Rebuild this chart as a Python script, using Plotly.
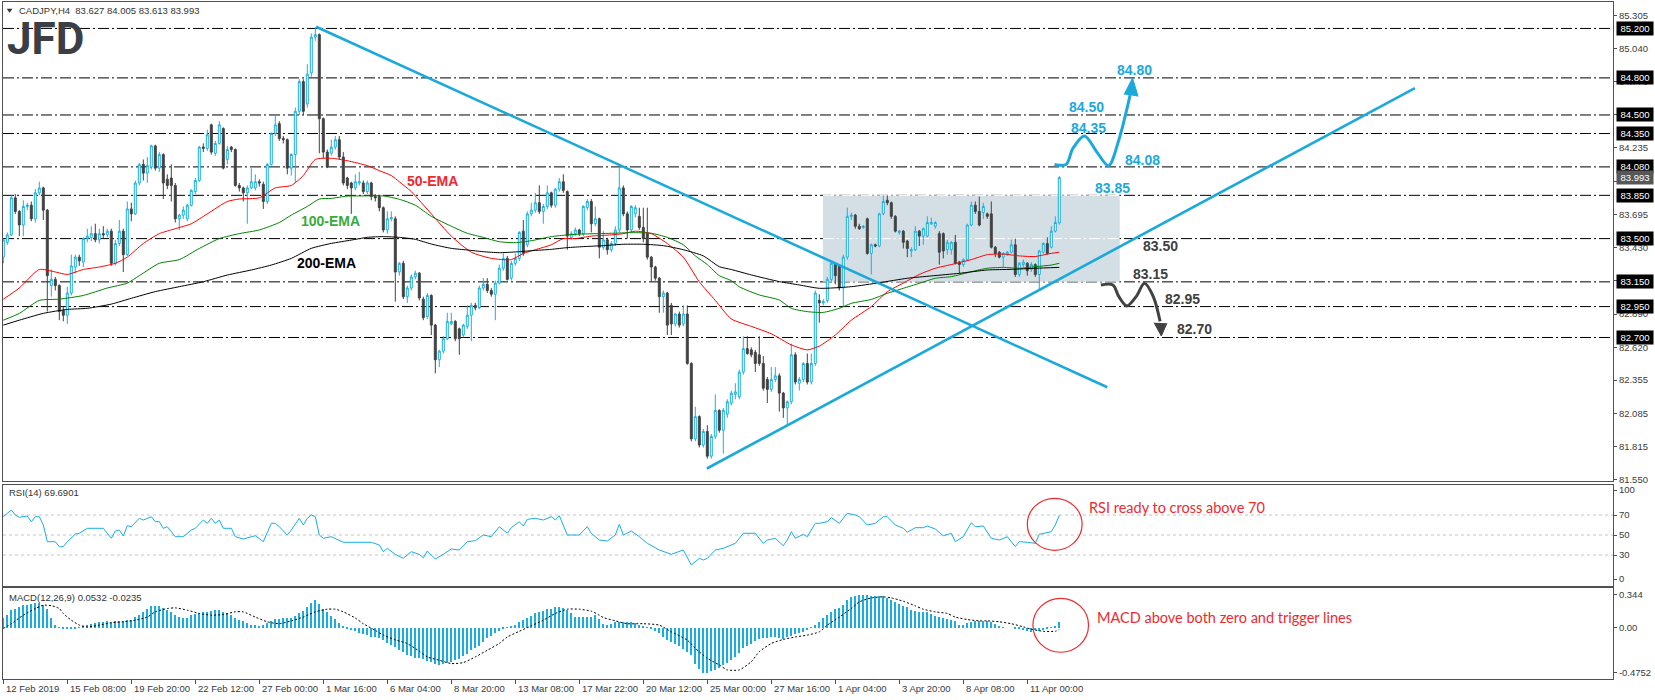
import plotly.graph_objects as go

# ---------------- data ----------------
tick_idx = [0, 16, 32, 48, 64, 80, 96, 112, 128, 144, 160, 176, 192, 208, 224, 240, 256]
tick_text = ["12 Feb 2019", "15 Feb 08:00", "19 Feb 20:00", "22 Feb 12:00", "27 Feb 00:00",
             "1 Mar 16:00", "6 Mar 04:00", "8 Mar 20:00", "13 Mar 08:00", "17 Mar 22:00",
             "20 Mar 12:00", "25 Mar 00:00", "27 Mar 16:00", "1 Apr 04:00", "3 Apr 20:00",
             "8 Apr 08:00", "11 Apr 00:00"]

opens = [
    83.35, 83.47, 83.53, 83.83, 83.72, 83.61, 83.76, 83.77, 83.66, 83.87,
    83.91, 83.73, 83.12, 83.17, 83.12, 82.92, 82.88, 83.06, 83.27, 83.35,
    83.31, 83.50, 83.51, 83.54, 83.49, 83.54, 83.53, 83.56, 83.30, 83.46,
    83.56, 83.37, 83.74, 83.70, 83.95, 84.10, 84.03, 84.08, 84.25, 84.07,
    84.18, 83.98, 83.99, 83.93, 83.66, 83.69, 83.66, 83.77, 83.88, 83.97,
    84.24, 84.23, 84.42, 84.19, 84.27, 84.39, 84.14, 84.24, 84.22, 83.93,
    83.91, 83.87, 83.91, 83.91, 83.96, 83.94, 83.80, 84.10, 84.35, 84.43,
    84.31, 84.30, 84.07, 84.18, 84.53, 84.77, 84.59, 84.84, 85.13, 85.15,
    84.47, 84.20, 84.19, 84.24, 84.30, 84.16, 83.99, 83.95, 83.91, 83.95,
    83.95, 83.88, 83.95, 83.84, 83.84, 83.75, 83.57, 83.66, 83.66, 83.23,
    83.30, 83.03, 83.10, 83.19, 83.22, 83.01, 82.87, 83.04, 82.80, 82.52,
    82.59, 82.69, 82.81, 82.83, 82.77, 82.72, 82.79, 82.88, 82.96, 82.94,
    83.10, 83.13, 83.08, 83.05, 83.14, 83.26, 83.34, 83.18, 83.30, 83.34,
    83.56, 83.45, 83.70, 83.73, 83.79, 83.72, 83.76, 83.87, 83.77, 83.90,
    83.96, 83.88, 83.51, 83.54, 83.57, 83.54, 83.75, 83.80, 83.62, 83.66,
    83.43, 83.49, 83.41, 83.46, 83.57, 83.91, 83.70, 83.57, 83.70, 83.68,
    83.59, 83.54, 83.35, 83.27, 83.18, 83.03, 83.06, 82.96, 82.81, 82.89,
    82.81, 82.89, 82.49, 81.88, 82.06, 81.83, 81.94, 81.74, 81.90, 82.11,
    81.95, 82.08, 82.17, 82.24, 82.22, 82.42, 82.61, 82.60, 82.58, 82.56,
    82.49, 82.36, 82.28, 82.36, 82.39, 82.25, 82.13, 82.18, 82.56, 82.33,
    82.36, 82.49, 82.34, 82.49, 83.00, 82.98, 83.00, 83.17, 83.29, 83.28,
    83.10, 83.35, 83.68, 83.69, 83.60, 83.59, 83.66, 83.38, 83.45, 83.44,
    83.70, 83.81, 83.79, 83.68, 83.55, 83.56, 83.48, 83.40, 83.41, 83.56,
    83.52, 83.52, 83.62, 83.60, 83.54, 83.54, 83.41, 83.41, 83.47, 83.31,
    83.29, 83.33, 83.61, 83.77, 83.72, 83.71, 83.70, 83.70, 83.43, 83.39,
    83.35, 83.37, 83.39, 83.45, 83.21, 83.29, 83.30, 83.25, 83.29, 83.21,
    83.39, 83.46, 83.43, 83.56, 83.627]

highs = [
    83.50, 83.55, 83.85, 83.86, 83.73, 83.81, 83.79, 83.80, 83.90, 83.96,
    83.92, 83.74, 83.25, 83.19, 83.13, 82.95, 83.11, 83.37, 83.37, 83.37,
    83.51, 83.58, 83.60, 83.62, 83.58, 83.60, 83.58, 83.58, 83.49, 83.65,
    83.58, 83.80, 83.79, 83.97, 84.11, 84.14, 84.16, 84.26, 84.26, 84.20,
    84.19, 84.02, 84.10, 83.95, 83.70, 83.76, 83.78, 83.90, 83.99, 84.25,
    84.27, 84.38, 84.43, 84.29, 84.45, 84.40, 84.25, 84.25, 84.23, 83.95,
    83.92, 83.93, 84.07, 84.02, 83.98, 83.96, 84.11, 84.36, 84.50, 84.45,
    84.33, 84.31, 84.19, 84.56, 84.79, 84.79, 84.91, 85.16, 85.21, 85.16,
    84.48, 84.22, 84.30, 84.33, 84.33, 84.20, 84.00, 83.96, 84.02, 84.04,
    83.97, 83.97, 83.96, 83.86, 83.85, 83.76, 83.72, 83.72, 83.68, 83.31,
    83.32, 83.12, 83.21, 83.24, 83.23, 83.03, 83.06, 83.05, 82.81, 82.60,
    82.71, 82.90, 82.90, 82.84, 82.78, 82.81, 82.96, 82.98, 82.98, 83.12,
    83.18, 83.18, 83.10, 83.16, 83.29, 83.38, 83.36, 83.32, 83.38, 83.56,
    83.65, 83.72, 83.79, 83.87, 83.93, 83.78, 83.93, 83.88, 83.91, 83.99,
    84.02, 83.89, 83.56, 83.59, 83.58, 83.77, 83.82, 83.82, 83.76, 83.67,
    83.56, 83.50, 83.48, 83.60, 84.08, 83.93, 83.72, 83.77, 83.77, 83.75,
    83.75, 83.75, 83.36, 83.28, 83.19, 83.08, 83.07, 82.98, 82.90, 82.91,
    82.96, 82.96, 82.50, 82.14, 82.07, 81.96, 81.99, 81.92, 82.24, 82.12,
    82.13, 82.20, 82.27, 82.33, 82.44, 82.71, 82.71, 82.62, 82.60, 82.71,
    82.55, 82.38, 82.46, 82.46, 82.41, 82.26, 82.19, 82.65, 82.58, 82.38,
    82.50, 82.57, 82.57, 83.08, 83.05, 83.01, 83.19, 83.31, 83.30, 83.29,
    83.37, 83.75, 83.71, 83.70, 83.62, 83.61, 83.67, 83.46, 83.46, 83.71,
    83.85, 83.85, 83.80, 83.69, 83.57, 83.57, 83.49, 83.43, 83.60, 83.57,
    83.59, 83.68, 83.67, 83.64, 83.56, 83.55, 83.49, 83.48, 83.53, 83.32,
    83.34, 83.62, 83.80, 83.80, 83.84, 83.79, 83.71, 83.80, 83.44, 83.40,
    83.39, 83.40, 83.49, 83.50, 83.31, 83.33, 83.31, 83.31, 83.30, 83.41,
    83.47, 83.51, 83.60, 83.68, 84.005]

lows = [
    83.30, 83.45, 83.52, 83.70, 83.52, 83.52, 83.73, 83.64, 83.63, 83.85,
    83.65, 82.91, 83.03, 83.08, 82.84, 82.83, 82.81, 83.04, 83.22, 83.28,
    83.27, 83.47, 83.48, 83.47, 83.46, 83.50, 83.51, 83.28, 83.28, 83.44,
    83.23, 83.36, 83.64, 83.69, 83.93, 83.97, 83.95, 84.06, 84.05, 84.04,
    83.82, 83.90, 83.80, 83.63, 83.57, 83.66, 83.64, 83.76, 83.86, 83.96,
    84.20, 84.21, 84.18, 84.17, 84.26, 84.06, 84.10, 84.20, 83.92, 83.88,
    83.80, 83.62, 83.90, 83.89, 83.92, 83.74, 83.78, 84.09, 84.33, 84.29,
    84.27, 84.02, 84.01, 83.95, 84.50, 84.50, 84.56, 84.81, 85.10, 84.19,
    84.15, 84.07, 84.17, 84.22, 84.14, 83.93, 83.90, 83.70, 83.89, 83.93,
    83.86, 83.86, 83.81, 83.80, 83.72, 83.55, 83.54, 83.64, 82.99, 83.20,
    83.01, 82.98, 83.08, 83.17, 83.00, 82.84, 82.85, 82.72, 82.41, 82.46,
    82.57, 82.68, 82.80, 82.67, 82.56, 82.70, 82.77, 82.67, 82.92, 82.93,
    83.08, 83.06, 83.03, 82.84, 83.13, 83.24, 83.16, 83.16, 83.28, 83.32,
    83.36, 83.43, 83.68, 83.71, 83.70, 83.62, 83.74, 83.75, 83.75, 83.88,
    83.87, 83.41, 83.49, 83.52, 83.52, 83.52, 83.73, 83.55, 83.60, 83.34,
    83.41, 83.37, 83.39, 83.44, 83.55, 83.68, 83.50, 83.55, 83.67, 83.57,
    83.47, 83.33, 83.15, 83.16, 82.90, 82.90, 82.72, 82.72, 82.79, 82.78,
    82.79, 82.48, 81.86, 81.86, 81.81, 81.81, 81.72, 81.72, 81.88, 81.93,
    81.76, 82.05, 82.15, 82.20, 82.20, 82.40, 82.56, 82.54, 82.42, 82.47,
    82.27, 82.17, 82.26, 82.34, 82.10, 82.05, 81.99, 82.16, 82.32, 82.27,
    82.34, 82.32, 82.32, 82.47, 82.82, 82.96, 82.98, 83.14, 83.13, 83.08,
    82.95, 83.33, 83.65, 83.58, 83.57, 83.58, 83.37, 83.21, 83.43, 83.43,
    83.69, 83.77, 83.66, 83.55, 83.53, 83.42, 83.35, 83.35, 83.40, 83.44,
    83.45, 83.51, 83.61, 83.58, 83.29, 83.34, 83.37, 83.37, 83.29, 83.22,
    83.27, 83.32, 83.60, 83.70, 83.60, 83.66, 83.66, 83.42, 83.35, 83.34,
    83.27, 83.36, 83.38, 83.19, 83.19, 83.27, 83.20, 83.23, 83.19, 83.09,
    83.38, 83.37, 83.42, 83.55, 83.613]

closes = [
    83.49, 83.53, 83.83, 83.72, 83.61, 83.76, 83.77, 83.66, 83.87, 83.91,
    83.73, 83.20, 83.17, 83.12, 82.91, 82.88, 83.06, 83.28, 83.35, 83.32,
    83.50, 83.52, 83.54, 83.49, 83.54, 83.53, 83.56, 83.30, 83.46, 83.56,
    83.37, 83.74, 83.70, 83.95, 84.10, 84.03, 84.09, 84.25, 84.07, 84.18,
    83.95, 83.93, 83.93, 83.66, 83.69, 83.73, 83.77, 83.89, 83.97, 84.24,
    84.23, 84.34, 84.20, 84.27, 84.42, 84.07, 84.22, 84.22, 83.93, 83.91,
    83.87, 83.91, 83.96, 83.96, 83.95, 83.80, 84.10, 84.35, 84.42, 84.31,
    84.30, 84.07, 84.18, 84.53, 84.77, 84.53, 84.83, 85.13, 85.15, 84.47,
    84.20, 84.08, 84.24, 84.30, 84.16, 83.95, 83.93, 83.91, 83.96, 83.96,
    83.88, 83.95, 83.84, 83.83, 83.75, 83.57, 83.66, 83.67, 83.23, 83.30,
    83.03, 83.10, 83.19, 83.22, 83.02, 82.86, 83.04, 82.80, 82.52, 82.59,
    82.69, 82.83, 82.83, 82.69, 82.69, 82.80, 82.88, 82.96, 82.94, 83.10,
    83.13, 83.08, 83.05, 83.14, 83.26, 83.34, 83.17, 83.30, 83.34, 83.55,
    83.38, 83.70, 83.73, 83.79, 83.72, 83.76, 83.87, 83.77, 83.90, 83.96,
    83.89, 83.52, 83.54, 83.57, 83.54, 83.76, 83.80, 83.62, 83.66, 83.43,
    83.49, 83.41, 83.46, 83.57, 83.91, 83.70, 83.57, 83.76, 83.75, 83.59,
    83.50, 83.35, 83.27, 83.18, 83.03, 83.06, 82.80, 82.81, 82.89, 82.80,
    82.89, 82.49, 81.88, 82.06, 81.83, 81.94, 81.74, 81.90, 82.11, 81.95,
    82.11, 82.18, 82.25, 82.26, 82.42, 82.61, 82.57, 82.56, 82.49, 82.49,
    82.29, 82.28, 82.36, 82.39, 82.25, 82.13, 82.18, 82.56, 82.34, 82.36,
    82.49, 82.34, 82.49, 83.06, 82.98, 82.99, 83.17, 83.30, 83.20, 83.10,
    83.35, 83.68, 83.69, 83.60, 83.58, 83.60, 83.38, 83.45, 83.44, 83.70,
    83.80, 83.79, 83.68, 83.56, 83.56, 83.47, 83.42, 83.41, 83.56, 83.52,
    83.58, 83.63, 83.63, 83.63, 83.39, 83.40, 83.47, 83.47, 83.30, 83.29,
    83.33, 83.61, 83.77, 83.72, 83.61, 83.76, 83.68, 83.43, 83.38, 83.35,
    83.38, 83.39, 83.45, 83.21, 83.30, 83.31, 83.24, 83.29, 83.21, 83.40,
    83.46, 83.38, 83.56, 83.63, 83.993]

ema50_idx = [0, 4, 9, 13, 16, 20, 24, 28, 31, 35, 39, 43, 47, 51, 56, 59, 64, 68, 72, 75, 78, 82,
             86, 91, 94, 97, 99, 102, 107, 112, 117, 122, 127, 130, 133, 137, 140, 143, 147, 152,
             155, 158, 162, 166, 170, 174, 178, 182, 187, 192, 197, 201, 204, 208, 212, 217, 221,
             225, 229, 233, 237, 242, 246, 250, 254, 258, 261, 264]
ema50_val = [83.01, 83.10, 83.25, 83.23, 83.21, 83.25, 83.27, 83.30, 83.35, 83.46, 83.54, 83.58,
             83.62, 83.70, 83.80, 83.82, 83.83, 83.91, 83.93, 84.01, 84.14, 84.15, 84.13, 84.09,
             84.05, 84.01, 83.96, 83.88, 83.70, 83.52, 83.39, 83.34, 83.33, 83.38, 83.41, 83.45,
             83.50, 83.50, 83.52, 83.53, 83.54, 83.56, 83.54, 83.46, 83.35, 83.15, 83.00, 82.85,
             82.79, 82.73, 82.64, 82.60, 82.63, 82.72, 82.84, 82.95, 83.07, 83.14, 83.21, 83.26,
             83.29, 83.33, 83.37, 83.375, 83.36, 83.355, 83.375, 83.39]

ema100_idx = [0, 4, 9, 14, 20, 26, 31, 34, 39, 44, 49, 54, 59, 64, 69, 72, 76, 79, 82, 86, 89, 95,
              99, 103, 107, 112, 116, 120, 124, 128, 132, 137, 141, 145, 152, 157, 162, 166, 170,
              173, 176, 179, 182, 184, 189, 194, 197, 201, 205, 209, 212, 217, 221, 225, 229, 233,
              237, 242, 246, 250, 254, 258, 262, 264]
ema100_val = [82.84, 82.895, 83.00, 83.01, 83.04, 83.10, 83.14, 83.20, 83.30, 83.33, 83.42, 83.50,
              83.54, 83.57, 83.63, 83.69, 83.76, 83.82, 83.825, 83.844, 83.845, 83.845, 83.818,
              83.77, 83.68, 83.60, 83.543, 83.51, 83.475, 83.467, 83.483, 83.516, 83.53, 83.537,
              83.543, 83.548, 83.543, 83.51, 83.45, 83.36, 83.29, 83.20, 83.16, 83.11, 83.044,
              83.003, 82.936, 82.909, 82.903, 82.936, 82.976, 83.008, 83.057, 83.098, 83.138,
              83.179, 83.192, 83.232, 83.26, 83.267, 83.26, 83.273, 83.286, 83.30]

ema200_idx = [0, 4, 10, 16, 21, 27, 32, 38, 44, 50, 56, 62, 67, 72, 77, 82, 87, 91, 95, 99, 103,
              107, 112, 116, 120, 124, 128, 132, 137, 141, 145, 150, 155, 160, 165, 170, 175, 179,
              182, 187, 194, 199, 204, 212, 219, 226, 232, 239, 246, 252, 258, 264]
ema200_val = [82.80, 82.84, 82.895, 82.927, 82.936, 82.97, 83.017, 83.071, 83.111, 83.151, 83.205,
              83.246, 83.286, 83.34, 83.421, 83.461, 83.488, 83.51, 83.516, 83.51, 83.494, 83.456,
              83.421, 83.408, 83.394, 83.386, 83.392, 83.402, 83.413, 83.427, 83.435, 83.443,
              83.454, 83.454, 83.443, 83.41, 83.36, 83.273, 83.25, 83.206, 83.152, 83.125, 83.098,
              83.111, 83.143, 83.179, 83.198, 83.219, 83.246, 83.251, 83.26, 83.267]

rsi_idx = [0, 2, 3, 4, 6, 7, 8, 9, 10, 11, 13, 14, 15, 16, 18, 19, 21, 23, 24, 25, 27, 28, 29, 30,
           31, 32, 34, 35, 37, 38, 39, 40, 41, 43, 45, 47, 48, 50, 51, 52, 53, 54, 55, 57, 58, 60,
           63, 65, 67, 68, 69, 71, 72, 74, 75, 76, 77, 78, 79, 80, 82, 83, 85, 87, 90, 92, 94, 95,
           96, 98, 100, 102, 104, 105, 106, 108, 110, 112, 114, 116, 118, 120, 122, 124, 126, 127,
           129, 130, 131, 133, 135, 137, 138, 139, 141, 144, 146, 147, 149, 151, 153, 154, 155,
           157, 159, 161, 164, 167, 170, 172, 174, 175, 176, 178, 180, 183, 185, 188, 190, 191,
           193, 195, 196, 197, 198, 200, 201, 203, 204, 206, 207, 209, 211, 213, 214, 216, 218,
           220, 221, 223, 225, 226, 228, 230, 231, 233, 235, 237, 238, 240, 242, 243, 245, 247,
           249, 251, 253, 254, 256, 258, 259, 261, 262, 263, 264]
rsi_val = [68.3, 75, 70, 67.7, 69, 63.3, 68.3, 68.3, 60, 43.3, 43.3, 38.3, 38.3, 43.3, 51, 51.7,
           56.7, 56.7, 56, 56.7, 46.7, 54, 55, 49, 59.3, 58.3, 66.7, 65, 68.3, 63.3, 63.3, 56.7,
           58.3, 48.3, 48.3, 55, 56.7, 65, 61.7, 66.7, 61.7, 65, 56.7, 56.7, 48.3, 46, 49.3, 43.3,
           61.7, 61.7, 58.3, 50, 55, 66.7, 60, 66.7, 70, 68.3, 50, 46.7, 48.3, 46.7, 42.7, 42.7,
           42.7, 42.7, 40, 33.3, 36.7, 30.7, 26.7, 33.3, 30.7, 27.3, 34, 26, 30.7, 36, 35, 43.3,
           44.3, 50, 48.3, 58.3, 51.7, 57.3, 63.3, 59, 65.7, 66.7, 65, 68.3, 65, 69.3, 50, 50,
           58.3, 51.7, 45, 44, 50, 60.7, 50, 54, 48.3, 41.7, 35, 30.7, 35, 20, 26.7, 25, 26.7,
           35, 36.7, 41.7, 51.7, 51.7, 41.7, 45, 46.7, 39.3, 45, 53.3, 46.7, 50.7, 48.3, 61.7,
           61.7, 63.3, 67.3, 61.7, 71.7, 70, 68.3, 60, 61.7, 68.3, 68.3, 60, 56.7, 52.7, 57.3,
           57.3, 59, 56, 49.3, 51.7, 43.3, 48.3, 62.3, 58.3, 59, 46.7, 45, 48.3, 38.3, 43.3,
           42.7, 41.7, 50.7, 52.7, 53.3, 60, 69.69]

macd_hist = [
    0.097, 0.132, 0.185, 0.20, 0.22, 0.237, 0.237, 0.244, 0.255, 0.255,
    0.24, 0.195, 0.097, 0.025, 0.005, -0.01, -0.02, -0.02, -0.01, 0.005,
    0.02, 0.03, 0.04, 0.05, 0.055, 0.06, 0.065, 0.062, 0.065, 0.068,
    0.07, 0.075, 0.08, 0.11, 0.13, 0.165, 0.19, 0.225, 0.225, 0.228,
    0.21, 0.18, 0.165, 0.13, 0.11, 0.097, 0.10, 0.13, 0.14, 0.15,
    0.165, 0.168, 0.17, 0.18, 0.18, 0.168, 0.15, 0.137, 0.10, 0.08,
    0.065, 0.045, 0.03, 0.022, 0.018, 0.03, 0.045, 0.065, 0.085, 0.09,
    0.095, 0.095, 0.10, 0.12, 0.148, 0.17, 0.22, 0.255, 0.288, 0.25,
    0.20, 0.16, 0.12, 0.085, 0.05, 0.015, -0.01, -0.025, -0.04, -0.055,
    -0.068, -0.08, -0.095, -0.105, -0.115, -0.135, -0.16, -0.18, -0.21, -0.235,
    -0.26, -0.29, -0.305, -0.318, -0.325, -0.334, -0.35, -0.365, -0.39, -0.40,
    -0.39, -0.375, -0.36, -0.345, -0.33, -0.30, -0.28, -0.24, -0.215, -0.19,
    -0.15, -0.115, -0.09, -0.063, -0.04, -0.02, -0.004, 0.007, 0.03, 0.055,
    0.077, 0.10, 0.125, 0.148, 0.165, 0.178, 0.193, 0.20, 0.215, 0.218,
    0.21, 0.183, 0.148, 0.115, 0.11, 0.11, 0.11, 0.115, 0.137, 0.09,
    0.04, 0.025, 0.04, 0.06, 0.06, 0.06, 0.06, 0.06, 0.045, 0.03,
    0.015, 0.005, -0.01, -0.035, -0.06, -0.10, -0.13, -0.155, -0.17, -0.20,
    -0.225, -0.26, -0.29, -0.38, -0.44, -0.475, -0.475, -0.46, -0.447, -0.43,
    -0.40, -0.37, -0.34, -0.31, -0.265, -0.22, -0.195, -0.17, -0.14, -0.12,
    -0.115, -0.11, -0.10, -0.105, -0.11, -0.116, -0.10, -0.085, -0.07, -0.063,
    -0.05, -0.025, -0.005, 0.025, 0.06, 0.10, 0.137, 0.165, 0.20, 0.205,
    0.24, 0.288, 0.32, 0.333, 0.34, 0.344, 0.34, 0.333, 0.33, 0.33,
    0.33, 0.315, 0.29, 0.27, 0.245, 0.23, 0.212, 0.185, 0.172, 0.165,
    0.165, 0.16, 0.145, 0.125, 0.11, 0.095, 0.088, 0.077, 0.067, 0.03,
    0.025, 0.045, 0.06, 0.07, 0.07, 0.07, 0.067, 0.06, 0.035, 0.018,
    0.003, 0.0, 0.0, -0.008, -0.02, -0.03, -0.04, -0.046, -0.03, -0.04,
    -0.03, -0.015, -0.005, 0.01, 0.0532]

sig_idx = [0, 2, 5, 8, 10, 12, 14, 15, 17, 19, 21, 24, 27, 30, 33, 36, 38, 41, 43, 46, 49, 52, 55,
           58, 60, 63, 66, 69, 72, 75, 78, 81, 83, 85, 88, 90, 93, 95, 98, 101, 104, 106, 109, 112,
           115, 118, 121, 124, 126, 129, 132, 135, 138, 141, 144, 147, 149, 150, 153, 156, 160,
           164, 167, 171, 173, 176, 179, 181, 184, 187, 189, 192, 195, 198, 201, 204, 206, 209,
           212, 214, 217, 220, 222, 225, 228, 230, 233, 236, 238, 241, 244, 246, 249, 252, 255,
           257, 260, 263, 264]
sig_val = [-0.01, 0.04, 0.13, 0.2, 0.235, 0.23, 0.2, 0.148, 0.077, 0.025, 0.007, 0.025, 0.05, 0.06,
           0.077, 0.11, 0.165, 0.2, 0.207, 0.183, 0.148, 0.13, 0.137, 0.165, 0.165, 0.11, 0.06,
           0.04, 0.07, 0.11, 0.165, 0.193, 0.193, 0.165, 0.10, 0.04, -0.03, -0.08, -0.13, -0.17,
           -0.25, -0.31, -0.345, -0.38, -0.37, -0.31, -0.24, -0.168, -0.1, -0.04, 0.018, 0.077,
           0.148, 0.193, 0.193, 0.172, 0.13, 0.105, 0.07, 0.04, 0.04, 0.025, -0.046, -0.133,
           -0.22, -0.325, -0.395, -0.447, -0.447, -0.36, -0.255, -0.168, -0.126, -0.1, -0.08,
           -0.046, 0.025, 0.11, 0.2, 0.27, 0.312, 0.323, 0.312, 0.277, 0.228, 0.193, 0.165,
           0.148, 0.11, 0.084, 0.07, 0.07, 0.06, 0.04, 0.007, -0.018, -0.04, -0.04, -0.0235]

price_ticks = [85.305, 85.040, 84.770, 84.505, 84.235, 83.965, 83.695, 83.430, 83.160,
               82.890, 82.620, 82.355, 82.085, 81.815, 81.550]
levels = [85.20, 84.80, 84.50, 84.35, 84.08, 83.85, 83.50, 83.15, 82.95, 82.70]
last_price = 83.993

box_idx = [204.9, 279.1]
box_px = [83.15, 83.85]
down_trend_idx = [78.2, 276.0]
down_trend_px = [85.214, 82.297]
up_trend_idx = [175.9, 352.9]
up_trend_px = [81.64, 84.718]

bull_path_idx = [262.8, 265.7, 267.4, 270.3, 273.4, 276.3, 278.9, 281.7]
bull_path_px = [84.10, 84.10, 84.23, 84.33, 84.20, 84.09, 84.30, 84.66]
bull_head_idx = [280.2, 282.3, 283.7]
bull_head_px = [84.665, 84.80, 84.65]
bear_path_idx = [274.4, 277.4, 278.9, 280.9, 283.2, 285.3, 287.5, 289.2]
bear_path_px = [83.125, 83.125, 83.03, 82.955, 83.03, 83.138, 83.03, 82.83]
bear_head_idx = [287.7, 289.5, 290.9]
bear_head_px = [82.82, 82.712, 82.815]

bull_labels = ["84.80", "84.50", "84.35", "84.08", "83.85"]
bull_lab_idx = [282.7, 270.9, 271.2, 284.7, 277.4]
bull_lab_px = [84.864, 84.562, 84.395, 84.136, 83.912]
bear_labels = ["83.50", "83.15", "82.95", "82.70"]
bear_lab_idx = [289.4, 286.7, 294.7, 297.7]
bear_lab_px = [83.440, 83.211, 83.009, 82.769]

ema_labels = ["50-EMA", "100-EMA", "200-EMA"]
ema_lab_idx = [107.3, 81.7, 80.9]
ema_lab_px = [83.966, 83.646, 83.303]

rsi_levels = [70, 50, 30]
rsi_circle_idx = [256.0, 269.7]
rsi_circle_val = [34.7, 86.7]
macd_circle_idx = [257.4, 271.3]
macd_circle_val = [-0.261, 0.308]

# ---------------- layout helpers ----------------
W, H = 1655, 700
ML, MR, MT, MB = 3, 42, 2, 21
PW, PH = W - ML - MR, H - MT - MB


def py(p):
    return (H - MB - p) / PH


def pxx(p):
    return (p - ML) / PW


CYAN = "#1aaee0"
DARK = "#424242"
TREND = "#1ba9dc"
RED = "#ee2a2f"
AXC = "#505050"
TXT = "#3a3a3a"
FONT = "Liberation Sans"

fig = go.Figure()

fig.add_trace(go.Candlestick(
    x=list(range(len(closes))), open=opens, high=highs, low=lows, close=closes,
    increasing=dict(line=dict(color=CYAN, width=1), fillcolor="white"),
    decreasing=dict(line=dict(color=DARK, width=1), fillcolor=DARK),
    whiskerwidth=0, xaxis="x", yaxis="y", hoverinfo="skip"))

for idx, val, col in [(ema50_idx, ema50_val, "#ff0000"),
                      (ema100_idx, ema100_val, "#008000"),
                      (ema200_idx, ema200_val, "#000000")]:
    fig.add_trace(go.Scatter(x=idx, y=val, mode="lines",
                             line=dict(color=col, width=1, shape="spline", smoothing=0.6),
                             xaxis="x", yaxis="y", hoverinfo="skip"))

for idx, val in [(down_trend_idx, down_trend_px), (up_trend_idx, up_trend_px)]:
    fig.add_trace(go.Scatter(x=idx, y=val, mode="lines", line=dict(color=TREND, width=2.6),
                             xaxis="x", yaxis="y", hoverinfo="skip"))

fig.add_trace(go.Scatter(x=bull_path_idx, y=bull_path_px, mode="lines",
                         line=dict(color=TREND, width=3, shape="spline", smoothing=0.9),
                         xaxis="x", yaxis="y", hoverinfo="skip"))
fig.add_trace(go.Scatter(x=bull_head_idx, y=bull_head_px, mode="lines", fill="toself",
                         fillcolor=TREND, line=dict(color=TREND, width=1),
                         xaxis="x", yaxis="y", hoverinfo="skip"))
fig.add_trace(go.Scatter(x=bear_path_idx, y=bear_path_px, mode="lines",
                         line=dict(color=DARK, width=3, shape="spline", smoothing=0.9),
                         xaxis="x", yaxis="y", hoverinfo="skip"))
fig.add_trace(go.Scatter(x=bear_head_idx, y=bear_head_px, mode="lines", fill="toself",
                         fillcolor=DARK, line=dict(color=DARK, width=1),
                         xaxis="x", yaxis="y", hoverinfo="skip"))

fig.add_trace(go.Scatter(x=rsi_idx, y=rsi_val, mode="lines", line=dict(color=CYAN, width=1),
                         xaxis="x2", yaxis="y2", hoverinfo="skip"))

fig.add_trace(go.Bar(x=list(range(len(macd_hist))), y=macd_hist, width=0.3,
                     marker=dict(color=CYAN, line=dict(width=0)),
                     xaxis="x3", yaxis="y3", hoverinfo="skip"))
fig.add_trace(go.Scatter(x=sig_idx, y=sig_val, mode="lines",
                         line=dict(color="black", width=1, dash="2px,2px", shape="spline", smoothing=0.6),
                         xaxis="x3", yaxis="y3", hoverinfo="skip"))

shapes = []
shapes.append(dict(type="rect", xref="x", yref="y", x0=box_idx[0], x1=box_idx[1],
                   y0=box_px[0], y1=box_px[1], fillcolor="#d3dfe4", line=dict(width=0),
                   layer="below"))
for lv in levels:
    shapes.append(dict(type="line", xref="paper", yref="y", x0=0, x1=1, y0=lv, y1=lv,
                       line=dict(color="black", width=1, dash="11px,3px,2px,3px"), layer="below"))
for lv in levels:
    if box_px[0] < lv <= box_px[1]:
        shapes.append(dict(type="line", xref="x", yref="y", x0=box_idx[0], x1=box_idx[1],
                           y0=lv, y1=lv,
                           line=dict(color="white", width=1, dash="11px,3px,2px,3px"),
                           layer="below"))
for lv in rsi_levels:
    shapes.append(dict(type="line", xref="paper", yref="y2", x0=0, x1=1, y0=lv, y1=lv,
                       line=dict(color="#c4c4c4", width=1, dash="3px,3px"), layer="below"))
shapes.append(dict(type="circle", xref="x2", yref="y2", x0=rsi_circle_idx[0], x1=rsi_circle_idx[1],
                   y0=rsi_circle_val[0], y1=rsi_circle_val[1], line=dict(color=RED, width=1.2)))
shapes.append(dict(type="circle", xref="x3", yref="y3", x0=macd_circle_idx[0], x1=macd_circle_idx[1],
                   y0=macd_circle_val[0], y1=macd_circle_val[1], line=dict(color=RED, width=1.2)))
# small header triangle
shapes.append(dict(type="path", xref="paper", yref="paper",
                   path=f"M {pxx(6.7)},{py(8.8)} L {pxx(12.5)},{py(8.8)} L {pxx(9.6)},{py(12.8)} Z",
                   fillcolor="#333333", line=dict(width=0)))

ann = []
ann.append(dict(xref="paper", yref="paper", x=pxx(17), y=py(10.7), xanchor="left", yanchor="middle",
                text="CADJPY,H4\u00a0\u00a083.627 84.005 83.613 83.993", showarrow=False,
                font=dict(family=FONT, size=9.5, color="#333333")))
ann.append(dict(xref="paper", yref="paper", x=pxx(45), y=py(39), xanchor="center", yanchor="middle",
                text="<b>JFD</b>", showarrow=False,
                font=dict(family="Roboto", size=44, color="#3b3f45")))
ann.append(dict(xref="paper", yref="paper", x=pxx(7), y=py(492.3), xanchor="left", yanchor="middle",
                text="RSI(14) 69.6901", showarrow=False, font=dict(family=FONT, size=9.5, color="#333333")))
ann.append(dict(xref="paper", yref="paper", x=pxx(7), y=py(597.7), xanchor="left", yanchor="middle",
                text="MACD(12,26,9) 0.0532 -0.0235", showarrow=False,
                font=dict(family=FONT, size=9.5, color="#333333")))
for t, s in zip(tick_idx, tick_text):
    ann.append(dict(xref="x3", yref="paper", x=t, y=py(688.5), xanchor="left", yanchor="middle",
                    xshift=1, text=s, showarrow=False, font=dict(family=FONT, size=9.5, color=TXT)))
for lv in levels:
    ann.append(dict(xref="paper", yref="y", x=1, y=lv, xanchor="left", yanchor="middle", xshift=3,
                    text=f"{lv:.3f}", showarrow=False, bgcolor="black", width=34, height=11,
                    font=dict(family=FONT, size=9.5, color="white")))
ann.append(dict(xref="paper", yref="y", x=1, y=last_price, xanchor="left", yanchor="middle", xshift=3,
                text=f"{last_price:.3f}", showarrow=False, bgcolor="#575757", width=34, height=11,
                font=dict(family=FONT, size=9.5, color="white")))
for s, xi, yv, col in zip(ema_labels, ema_lab_idx, ema_lab_px, ["#f0282d", "#3aaa3a", "#000000"]):
    ann.append(dict(xref="x", yref="y", x=xi, y=yv, text=f"<b>{s}</b>", showarrow=False,
                    font=dict(family=FONT, size=14, color=col)))
for s, xi, yv in zip(bull_labels, bull_lab_idx, bull_lab_px):
    ann.append(dict(xref="x", yref="y", x=xi, y=yv, text=f"<b>{s}</b>", showarrow=False,
                    font=dict(family=FONT, size=14, color=TREND)))
for s, xi, yv in zip(bear_labels, bear_lab_idx, bear_lab_px):
    ann.append(dict(xref="x", yref="y", x=xi, y=yv, text=f"<b>{s}</b>", showarrow=False,
                    font=dict(family=FONT, size=14, color="#404040")))
ann.append(dict(xref="x2", yref="y2", x=270.8, y=77.7, xanchor="left", yanchor="middle",
                text="RSI ready to cross above 70", showarrow=False,
                font=dict(family="Lato", size=14.5, color=RED)))
ann.append(dict(xref="x3", yref="y3", x=272.9, y=0.1075, xanchor="left", yanchor="middle",
                text="MACD above both zero and trigger lines", showarrow=False,
                font=dict(family="Lato", size=14.5, color=RED)))

x_range = [-0.075, (W - MR - 3.3) / 4.0]
common_x = dict(range=x_range, showgrid=False, zeroline=False, showline=True, linecolor=AXC,
                linewidth=1, mirror=True, fixedrange=True)
common_y = dict(showgrid=False, zeroline=False, showline=True, linecolor=AXC, linewidth=1,
                mirror=True, side="right", ticks="outside", ticklen=3, tickcolor=AXC,
                tickfont=dict(family=FONT, size=9.5, color=TXT), fixedrange=True)

fig.update_layout(
    width=W, height=H, margin=dict(l=ML, r=MR, t=MT, b=MB),
    paper_bgcolor="white", plot_bgcolor="white", showlegend=False, hovermode=False,
    xaxis=dict(**common_x, anchor="y", showticklabels=False, ticks="", rangeslider=dict(visible=False)),
    xaxis2=dict(**common_x, anchor="y2", showticklabels=False, ticks=""),
    xaxis3=dict(**common_x, anchor="y3", showticklabels=False, ticks="outside", ticklen=4,
                tickcolor=AXC, tickvals=tick_idx),
    yaxis=dict(**common_y, domain=[py(481), 1.0], range=[81.539, 85.414],
               tickvals=price_ticks, ticktext=[f"{v:.3f}" for v in price_ticks]),
    yaxis2=dict(**common_y, domain=[py(586), py(485)], range=[-1, 100],
                tickvals=[95, 70, 50, 30, 6], ticktext=["100", "70", "50", "30", "0"]),
    yaxis3=dict(**common_y, domain=[0, py(588)], range=[-0.543, 0.4165],
                tickvals=[0.344, 0.0, -0.4752], ticktext=["0.344", "0.00", "-0.4752"]),
    shapes=shapes, annotations=ann, bargap=0,
)

fig.write_html("out.html", config={"displayModeBar": False},
               post_script="document.body.style.margin='0px';document.body.style.overflow='hidden';")
